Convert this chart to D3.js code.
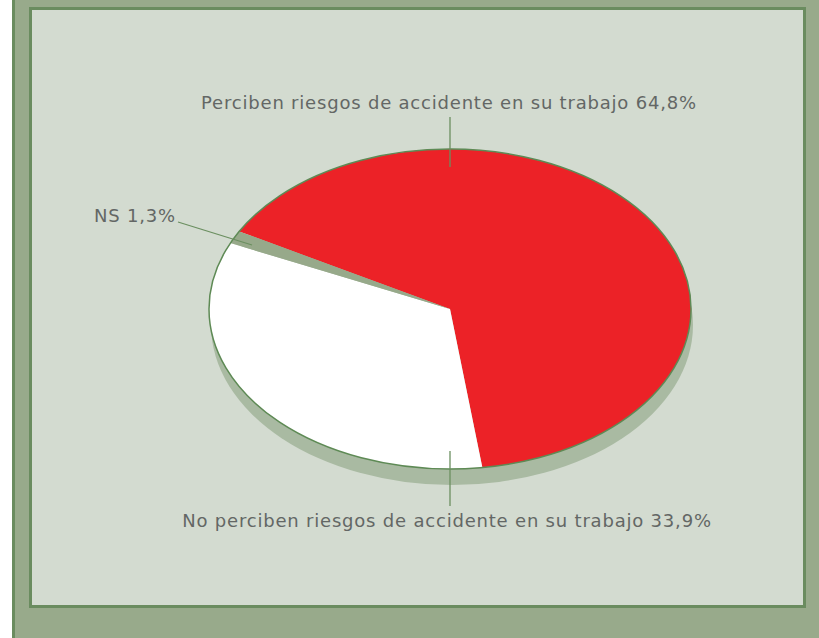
<!DOCTYPE html>
<html>
<head>
<meta charset="utf-8">
<script src="https://cdn.jsdelivr.net/npm/d3@7"></script>
<style>
  body { margin: 0; background: #fff; }
  svg { display: block; }
</style>
</head>
<body>
<div id="chart"></div>
<script>
// survey answers, in the order they go round the pie
const categories = ["Perciben riesgos de accidente en su trabajo", "No perciben riesgos de accidente en su trabajo", "NS"];
const values = [64.8, 33.9, 1.3];
const valueLabels = ["64,8%", "33,9%", "1,3%"];

const width = 819;
const height = 638;
const cx = 450, cy = 309;
const rx = 241, ry = 160;
const depth = 16;

const colors = ["#ec2227", "#ffffff", "#97a98a"];
const lineColor = "#6b8f60";
const textColor = "#636765";

const svg = d3.select("#chart").append("svg")
    .attr("width", width)
    .attr("height", height)
    .attr("viewBox", [0, 0, width, height]);

// background frame
svg.append("rect").attr("x", 15).attr("y", 0).attr("width", width - 15).attr("height", height).attr("fill", "#98aa8b");
svg.append("rect").attr("x", 12).attr("y", 0).attr("width", 3).attr("height", height).attr("fill", "#6a8c5f");
svg.append("rect")
    .attr("x", 30.5).attr("y", 8.5)
    .attr("width", 774).attr("height", 598)
    .attr("fill", "#d3dbd0")
    .attr("stroke", "#6a8c5f")
    .attr("stroke-width", 3);

const data = categories.map((c, i) => ({name: c, value: values[i], label: valueLabels[i], color: colors[i]}));

const start = -61 * Math.PI / 180;
const pie = d3.pie().sort(null).value(d => d.value)
    .startAngle(start).endAngle(start + 2 * Math.PI);
const arc = d3.arc().innerRadius(0).outerRadius(rx);
const arcs = pie(data);

// shadow / side of the disc
svg.append("ellipse")
    .attr("cx", cx + 2).attr("cy", cy + depth)
    .attr("rx", rx).attr("ry", ry)
    .attr("fill", "#a9baa2");

const g = svg.append("g")
    .attr("transform", `translate(${cx},${cy}) scale(1,${ry / rx})`);

g.selectAll("path")
    .data(arcs)
    .join("path")
    .attr("d", arc)
    .attr("fill", d => d.data.color);

svg.append("ellipse")
    .attr("cx", cx).attr("cy", cy)
    .attr("rx", rx).attr("ry", ry)
    .attr("fill", "none")
    .attr("stroke", "#5e8a55")
    .attr("stroke-width", 1.5);

// labels and leader lines
const font = "'DejaVu Sans', Verdana, sans-serif";
const fs = 18;

function label(x, y, anchor, txt) {
    svg.append("text")
        .attr("x", x).attr("y", y)
        .attr("text-anchor", anchor)
        .attr("font-family", font)
        .attr("font-size", fs)
        .attr("letter-spacing", 0.8)
        .attr("fill", textColor)
        .text(txt);
}

function leader(x1, y1, x2, y2) {
    svg.append("line")
        .attr("x1", x1).attr("y1", y1)
        .attr("x2", x2).attr("y2", y2)
        .attr("stroke", lineColor)
        .attr("stroke-width", 1.3);
}

label(cx - 1, 109, "middle", `${data[0].name} ${data[0].label}`);
leader(cx, 117, cx, cy - ry + 18);

label(cx - 3, 527, "middle", `${data[1].name} ${data[1].label}`);
leader(cx, cy + ry - 18, cx, 506);

label(94, 222, "start", `${data[2].name} ${data[2].label}`);
leader(178, 222, 252, 245);
</script>
</body>
</html>
